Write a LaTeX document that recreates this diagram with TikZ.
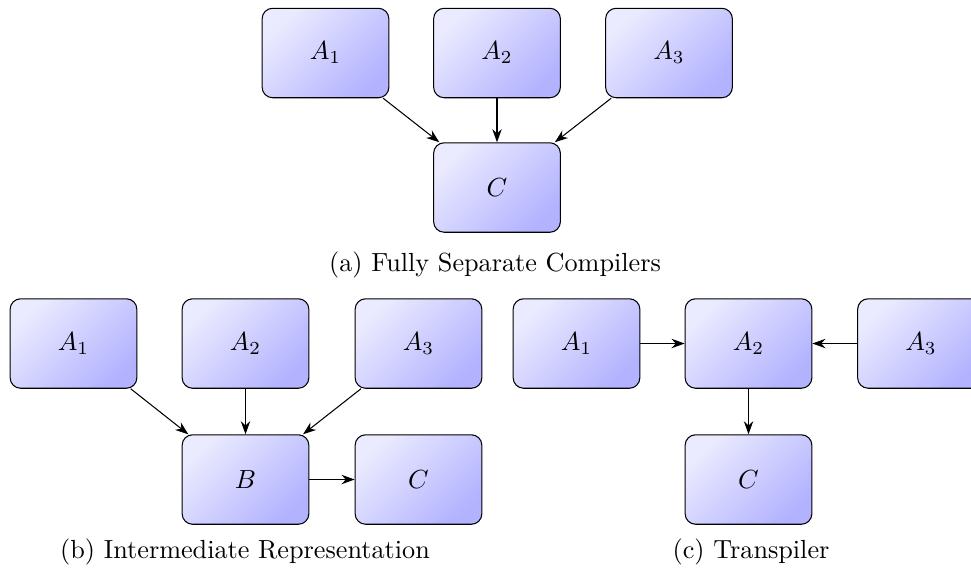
\documentclass[tikz,border=0pt]{standalone}
\usetikzlibrary{arrows.meta}
\begin{document}
\begin{tikzpicture}[x=0.3817pt,y=-0.3817pt,
  cbox/.style={draw=black, rounded corners=4pt, minimum width=1.7cm, minimum height=1.2cm,
    shading=axis, top color=blue!8, bottom color=blue!30, shading angle=45, inner sep=0pt},
  arr/.style={-{Stealth[length=5pt,width=3.6pt]}, line width=0.4pt},
  captext/.style={inner sep=0pt}]
\useasboundingbox (0,0) rectangle (971,572);
% (a)
\node[cbox] (aA1) at (325.5,53) {$A_1$};
\node[cbox] (aA2) at (497,53) {$A_2$};
\node[cbox] (aA3) at (669,53) {$A_3$};
\node[cbox] (aC) at (497,187.5) {$C$};
\draw[arr] (aA1) -- (aC);
\draw[arr] (aA2) -- (aC);
\draw[arr] (aA3) -- (aC);
\node[captext] (capa) at (495,265) {(a) Fully Separate Compilers};
% (b)
\node[cbox] (bA1) at (73.5,343.5) {$A_1$};
\node[cbox] (bA2) at (245.5,343.5) {$A_2$};
\node[cbox] (bA3) at (418.5,343.5) {$A_3$};
\node[cbox] (bB) at (245.5,479.5) {$B$};
\node[cbox] (bC) at (418.5,479.5) {$C$};
\draw[arr] (bA1) -- (bB);
\draw[arr] (bA2) -- (bB);
\draw[arr] (bA3) -- (bB);
\draw[arr] (bB) -- (bC);
\node[captext] (capb) at (245,552) {(b) Intermediate Representation};
% (c)
\node[cbox] (cA1) at (576.5,343.5) {$A_1$};
\node[cbox] (cA2) at (748.5,343.5) {$A_2$};
\node[cbox] (cA3) at (921,343.5) {$A_3$};
\node[cbox] (cC) at (748.5,479.5) {$C$};
\draw[arr] (cA1) -- (cA2);
\draw[arr] (cA3) -- (cA2);
\draw[arr] (cA2) -- (cC);
\node[captext] (capc) at (751,552) {(c) Transpiler};
\end{tikzpicture}
\end{document}
